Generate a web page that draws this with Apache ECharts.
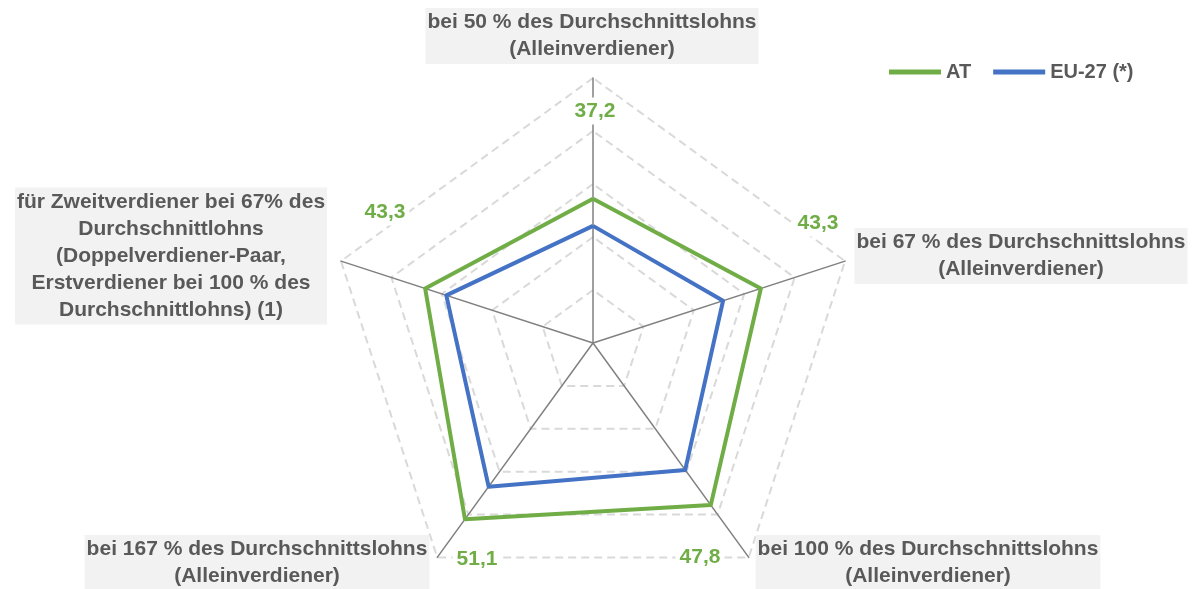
<!DOCTYPE html>
<html>
<head>
<meta charset="utf-8">
<script src="https://cdn.jsdelivr.net/npm/echarts@6/dist/echarts.min.js"></script>
<style>
  html, body { margin: 0; padding: 0; background: #fff; }
  #main { width: 1195px; height: 589px; }
</style>
</head>
<body>
<div id="main"></div>
<script>
// Achsen gegen den Uhrzeigersinn ab oben (so legt ECharts den Radar an)
var categories = [
  'bei 50 % des Durchschnittslohns\n(Alleinverdiener)',
  'für Zweitverdiener bei 67% des\nDurchschnittlohns\n(Doppelverdiener-Paar,\nErstverdiener bei 100 % des\nDurchschnittlohns) (1)',
  'bei 167 % des Durchschnittslohns\n(Alleinverdiener)',
  'bei 100 % des Durchschnittslohns\n(Alleinverdiener)',
  'bei 67 % des Durchschnittslohns\n(Alleinverdiener)'
];
var seriesNames = ['AT', 'EU-27 (*)'];
var atValues = [37.2, 43.3, 51.1, 47.8, 43.3];
var euValues = [32.1, 39.1, 43.5, 39.6, 35.8];
var axisMin = 10;
var axisMax = 60;

var FONT = '"Liberation Sans", Arial, sans-serif';
var GREEN = '#70ad47';
var BLUE = '#4472c4';
var TEXT = '#595959';
var cx = 593, cy = 343, R = 265;

// Lage der Achsenbeschriftungen (Kastenmitte) und der AT-Werte (relativ zur Mitte)
var nameBoxes = [[592, 36], [171, 256], [257, 563], [928, 563], [1021, 256]];
var valueOffsets = [[2, -232], [-208, -131], [-116, 216], [107, 214], [225, -120]];

var myChart = echarts.init(document.getElementById('main'));

var graphics = [];
categories.forEach(function (name, i) {
  graphics.push({
    type: 'text',
    x: nameBoxes[i][0],
    y: nameBoxes[i][1],
    z: 20,
    style: {
      text: name,
      fill: TEXT,
      font: 'bold 21px ' + FONT,
      lineHeight: 27,
      align: 'center',
      verticalAlign: 'middle',
      backgroundColor: '#f2f2f2',
      padding: [1, 2]
    }
  });
  graphics.push({
    type: 'text',
    x: cx + valueOffsets[i][0],
    y: cy + valueOffsets[i][1],
    z: 20,
    style: {
      text: atValues[i].toFixed(1).replace('.', ','),
      fill: GREEN,
      font: 'bold 21px ' + FONT,
      align: 'center',
      verticalAlign: 'middle',
      backgroundColor: '#fff',
      padding: [3, 4]
    }
  });
});

myChart.setOption({
  animation: false,
  backgroundColor: '#fff',
  legend: {
    data: seriesNames,
    left: 884,
    top: 57,
    icon: 'rect',
    itemWidth: 52,
    itemHeight: 5,
    itemGap: 22,
    textStyle: { color: TEXT, fontWeight: 'bold', fontSize: 20, fontFamily: FONT }
  },
  radar: {
    center: [cx, cy],
    radius: R,
    startAngle: 90,
    splitNumber: 5,
    shape: 'polygon',
    indicator: categories.map(function (c) {
      return { name: c, min: axisMin, max: axisMax };
    }),
    axisName: { show: false },
    axisLine: { lineStyle: { color: '#808080', width: 1.5 } },
    splitLine: { lineStyle: { color: '#d9d9d9', width: 2, type: [8, 5] } },
    splitArea: { show: false }
  },
  graphic: graphics,
  series: [{
    type: 'radar',
    symbol: 'none',
    data: [
      { name: seriesNames[0], value: atValues,
        lineStyle: { color: GREEN, width: 4 }, itemStyle: { color: GREEN } },
      { name: seriesNames[1], value: euValues,
        lineStyle: { color: BLUE, width: 4 }, itemStyle: { color: BLUE } }
    ]
  }]
});
</script>
</body>
</html>
